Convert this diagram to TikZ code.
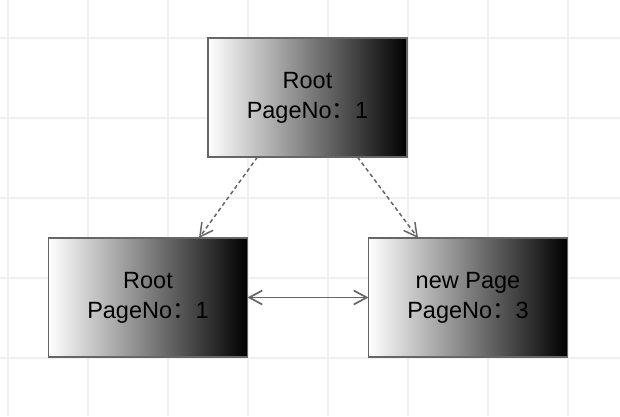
\documentclass[tikz,border=0pt]{standalone}
\usepackage{fontspec}
\setmainfont{Liberation Sans}
\newfontfamily\cjk{Noto Sans CJK SC}
\usetikzlibrary{arrows.meta,calc}
\definecolor{linegray}{HTML}{666666}
\definecolor{gridgray}{HTML}{F0F0F0}
\tikzset{
  pagebox/.style={draw=linegray, line width=1.6pt, left color=white, right color=black,
    minimum width=199pt, minimum height=119pt, inner sep=0pt, outer sep=0pt,
    align=center, font=\fontsize{23.5pt}{30pt}\selectfont, text=black},
  link/.style={draw=linegray, line width=1.5pt, dash pattern=on 4pt off 3pt,
    -{Straight Barb[length=13pt,width=14pt,line width=1.5pt]}},
  sibling/.style={draw=linegray, line width=1.7pt,
    {Straight Barb[length=13pt,width=14pt,line width=1.7pt]}-{Straight Barb[length=13pt,width=14pt,line width=1.7pt]}},
  gridline/.style={draw=gridgray, line width=1.2pt}
}
\begin{document}
\begin{tikzpicture}[x=1pt,y=-1pt]
  \fill[white] (0,0) rectangle (620,416);
  \useasboundingbox (0,0) rectangle (620,416);
  \foreach \gx in {8,88,...,568} { \draw[gridline] (\gx,0) -- (\gx,416); }
  \foreach \gy in {38,118,...,358} { \draw[gridline] (0,\gy) -- (620,\gy); }
  \node[pagebox] (top) at (307.5,97.5) {Root\\PageNo{\cjk ：}1};
  \node[pagebox] (left) at (148,297.5) {Root\\PageNo{\cjk ：}1};
  \node[pagebox] (right) at (468,297.5) {new Page\\PageNo{\cjk ：}3};
  \draw[link] ($(top.south)+(-50,0)$) -- ($(left.north)+(51,0)$);
  \draw[link] ($(top.south)+(50,0)$) -- ($(right.north)+(-50,0)$);
  \draw[sibling] (left.east) -- (right.west);
\end{tikzpicture}
\end{document}
